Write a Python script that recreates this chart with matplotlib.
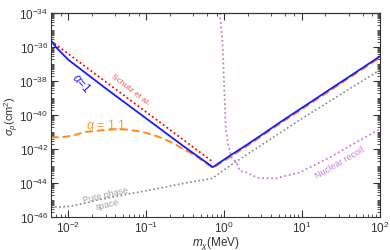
import matplotlib
matplotlib.use("Agg")
import matplotlib.pyplot as plt
from matplotlib.ticker import LogLocator, FixedLocator, NullFormatter, LogFormatterSciNotation
import numpy as np

plt.rcParams['font.family'] = ['Liberation Sans', 'DejaVu Sans']
plt.rcParams['mathtext.fontset'] = 'custom'
plt.rcParams['mathtext.rm'] = 'Liberation Sans'
plt.rcParams['mathtext.it'] = 'Liberation Sans:italic'

# log10 of mass (MeV) and log10 of cross section (cm^2)
blue_lm = [-2.225, -2.19, -2.15, -2.0, -1.5, -1.0, -0.5, -0.145, 0.074, 0.288, 0.497, 0.716, 2.0]
blue_ls = [-35.63, -35.82, -36.05, -36.75, -38.5, -40.2, -41.9, -43.06, -42.39, -41.76, -41.12, -40.43, -36.55]

red_lm = [-2.225, -0.145]
red_ls = [-35.63, -42.75]

orange_lm = [-2.225, -2.1, -2.0, -1.9, -1.8, -1.65, -1.5, -1.4, -1.25, -1.1, -1.0, -0.9,
             -0.8, -0.7, -0.6, -0.5, -0.4, -0.3, -0.145, 0.288, 0.716, 2.0]
orange_ls = [-41.31, -41.3, -41.25, -41.15, -41.0, -40.93, -40.86, -40.84, -40.85, -40.95, -41.05, -41.18,
             -41.35, -41.55, -41.8, -42.05, -42.3, -42.6, -43.12, -41.84, -40.51, -36.63]

gray_lm = [-2.225, -2.1, -2.0, -1.8, -1.6, -1.0, -0.5, -0.15, 0.074, 0.5, 1.0, 2.0]
gray_ls = [-45.39, -45.40, -45.37, -45.2, -44.96, -44.45, -44.0, -43.72, -42.98, -41.7, -40.2, -37.35]

purple_lm = [-0.055, -0.021, 0.022, 0.051, 0.095, 0.159, 0.201, 0.288, 0.416, 0.458, 0.673,
             0.715, 0.972, 1.357, 1.656, 2.0]
purple_ls = [-34.0, -35.72, -40.82, -41.71, -42.49, -42.78, -43.28, -43.37, -43.66, -43.71, -43.72,
             -43.66, -43.37, -42.49, -41.71, -40.82]

def lin(a):
    return 10.0 ** np.array(a)

fig = plt.figure(figsize=(3.9, 2.51), dpi=100)
ax = fig.add_axes([0.131, 0.131, 0.843, 0.813])

ax.plot(lin(red_lm), lin(red_ls), color='red', ls=(0, (1, 1.5)), lw=1.3)
ax.plot(lin(gray_lm), lin(gray_ls), color='#888888', ls=(0, (1, 1.5)), lw=1.2)
ax.plot(lin(purple_lm), lin(purple_ls), color='#c77fd6', ls=(0, (1, 1.5)), lw=1.3)
ax.plot(lin(orange_lm), lin(orange_ls), color='#ff8c1a', ls=(0, (4, 2)), lw=1.4)
ax.plot(lin(blue_lm), lin(blue_ls), color='#1a1aff', lw=1.3)

ax.set_xscale('log')
ax.set_yscale('log')
ax.set_xlim(6e-3, 100)
ax.set_ylim(1e-46, 1e-34)

ax.yaxis.set_major_locator(FixedLocator([10.0 ** k for k in range(-46, -33, 2)]))
ax.yaxis.set_minor_locator(LogLocator(base=10, subs=np.arange(1, 10), numticks=30))
ax.yaxis.set_major_formatter(LogFormatterSciNotation())
ax.yaxis.set_minor_formatter(NullFormatter())
ax.xaxis.set_major_locator(LogLocator(base=10, numticks=10))
ax.xaxis.set_minor_locator(LogLocator(base=10, subs=np.arange(2, 10), numticks=10))
ax.xaxis.set_minor_formatter(NullFormatter())

ax.tick_params(which='both', direction='in', top=False, right=True, colors='#333333',
               labelsize=8.5, pad=2)
ax.tick_params(which='major', length=5, width=0.8)
ax.tick_params(which='minor', length=2.5, width=0.6)
ax.tick_params(axis='x', which='minor', top=False)

top = ax.secondary_xaxis('top')
top.xaxis.set_major_locator(LogLocator(base=10, numticks=10))
top.xaxis.set_minor_locator(LogLocator(base=10, subs=(2, 4, 6, 8), numticks=10))
top.tick_params(which='both', direction='in', labeltop=False, colors='#333333')
top.tick_params(which='major', length=5, width=0.8)
top.tick_params(which='minor', length=2.5, width=0.6)

for s in list(ax.spines.values()) + list(top.spines.values()):
    s.set_color('#333333')
    s.set_linewidth(0.8)

ax.set_xlabel(r'$m_\chi$(MeV)', fontsize=8.5, color='#333333')
ax.set_ylabel(r'$\sigma_p$(cm$^2$)', fontsize=8, color='#333333')
ax.xaxis.set_label_coords(0.5, -0.085)
ax.yaxis.set_label_coords(-0.093, 0.5)

ax.text(10 ** -1.83, 10 ** -38.1, r'$\alpha$=1', color='#1a1aff', fontsize=8.5,
        rotation=-48, ha='center', va='center')
ax.text(10 ** -1.21, 10 ** -38.47, 'Schutz et al.', color='#f05050', fontsize=6,
        rotation=-38, ha='center', va='center')
ax.text(10 ** -1.51, 10 ** -40.55, r'$\alpha$ = 1.1', color='#ff9a2a', fontsize=9,
        ha='center', va='center')
ax.text(10 ** -1.505, 10 ** -44.94, 'Pure phase\nspace', color='#a0a0a0', fontsize=6.5,
        rotation=13, ha='center', va='center', linespacing=1.0)
ax.text(10 ** 1.485, 10 ** -42.78, 'Nuclear recoil', color='#c77fd6', fontsize=6.5,
        rotation=30, ha='center', va='center')

fig.savefig('out.png', dpi=100)
